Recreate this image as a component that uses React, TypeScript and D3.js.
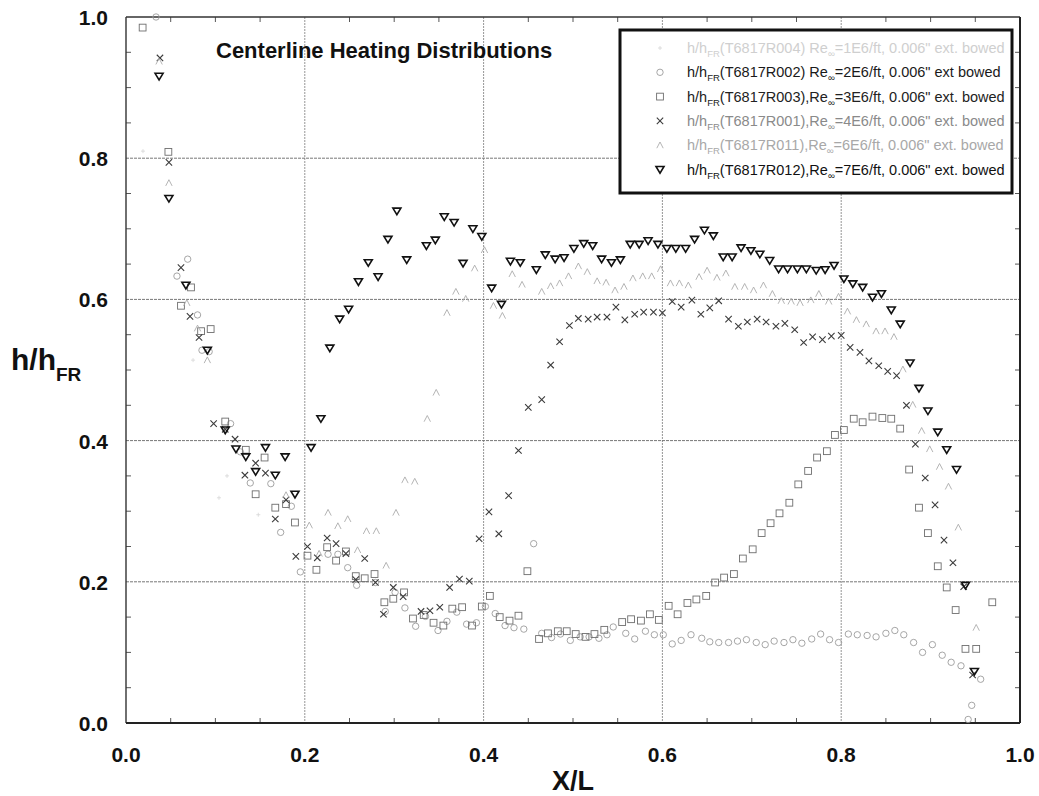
import React from "react";
import * as d3 from "d3";

type Pt = [number, number];

// X/L, h/hFR pairs
const r004: Pt[] = [[0.019,0.81],[0.075,0.514],[0.104,0.319],[0.113,0.35],[0.148,0.295]];
const r002: Pt[] = [[0.0336,1.0],[0.057,0.633],[0.069,0.657],[0.080,0.578],[0.085,0.528],[0.093,0.526],[0.117,0.424],[0.128,0.384],[0.139,0.340],[0.162,0.339],[0.173,0.270],[0.185,0.307],[0.195,0.214],[0.226,0.239],[0.237,0.239],[0.248,0.220],[0.258,0.195],[0.279,0.199],[0.290,0.158],[0.301,0.185],[0.312,0.163],[0.324,0.137],[0.335,0.151],[0.349,0.131],[0.359,0.144],[0.370,0.157],[0.381,0.140],[0.392,0.142],[0.402,0.165],[0.413,0.155],[0.424,0.138],[0.434,0.135],[0.445,0.133],[0.456,0.254],[0.465,0.127],[0.476,0.121],[0.486,0.126],[0.497,0.117],[0.508,0.122],[0.518,0.122],[0.529,0.120],[0.538,0.125],[0.545,0.136],[0.559,0.127],[0.569,0.119],[0.581,0.130],[0.591,0.125],[0.601,0.125],[0.611,0.112],[0.621,0.117],[0.632,0.125],[0.644,0.120],[0.653,0.115],[0.663,0.114],[0.674,0.114],[0.684,0.116],[0.694,0.118],[0.705,0.114],[0.715,0.111],[0.725,0.116],[0.736,0.114],[0.746,0.118],[0.756,0.113],[0.767,0.119],[0.777,0.126],[0.787,0.118],[0.797,0.114],[0.808,0.126],[0.818,0.125],[0.829,0.124],[0.839,0.122],[0.850,0.127],[0.860,0.131],[0.870,0.125],[0.881,0.114],[0.891,0.100],[0.902,0.111],[0.913,0.096],[0.923,0.086],[0.934,0.081],[0.946,0.025],[0.942,0.005],[0.956,0.062]];
const r003: Pt[] = [[0.0186,0.985],[0.0474,0.809],[0.0615,0.591],[0.0727,0.617],[0.084,0.555],[0.0947,0.558],[0.111,0.427],[0.134,0.387],[0.145,0.324],[0.155,0.376],[0.167,0.305],[0.179,0.310],[0.189,0.284],[0.203,0.237],[0.213,0.217],[0.225,0.249],[0.235,0.230],[0.246,0.243],[0.257,0.208],[0.267,0.205],[0.278,0.211],[0.289,0.171],[0.299,0.176],[0.311,0.185],[0.321,0.148],[0.333,0.153],[0.344,0.142],[0.355,0.138],[0.365,0.162],[0.376,0.164],[0.387,0.138],[0.398,0.165],[0.407,0.180],[0.418,0.150],[0.429,0.145],[0.439,0.152],[0.449,0.215],[0.462,0.119],[0.472,0.127],[0.483,0.130],[0.493,0.130],[0.503,0.126],[0.514,0.122],[0.524,0.126],[0.535,0.132],[0.555,0.143],[0.565,0.147],[0.576,0.145],[0.586,0.154],[0.596,0.146],[0.607,0.166],[0.617,0.154],[0.628,0.170],[0.638,0.175],[0.649,0.180],[0.659,0.199],[0.669,0.206],[0.680,0.211],[0.690,0.233],[0.701,0.246],[0.711,0.269],[0.721,0.283],[0.731,0.297],[0.742,0.312],[0.752,0.338],[0.763,0.357],[0.773,0.376],[0.784,0.385],[0.793,0.408],[0.803,0.415],[0.814,0.431],[0.824,0.426],[0.835,0.434],[0.846,0.432],[0.856,0.431],[0.866,0.417],[0.876,0.359],[0.887,0.305],[0.897,0.269],[0.908,0.222],[0.918,0.192],[0.928,0.160],[0.939,0.105],[0.951,0.105],[0.969,0.171]];
const r001: Pt[] = [[0.038,0.942],[0.048,0.794],[0.0615,0.645],[0.0716,0.576],[0.0817,0.546],[0.098,0.424],[0.111,0.416],[0.122,0.402],[0.133,0.351],[0.145,0.368],[0.156,0.354],[0.167,0.289],[0.179,0.316],[0.190,0.236],[0.203,0.250],[0.214,0.234],[0.225,0.262],[0.235,0.254],[0.246,0.240],[0.257,0.203],[0.267,0.233],[0.279,0.199],[0.288,0.154],[0.299,0.192],[0.310,0.179],[0.330,0.158],[0.340,0.159],[0.351,0.164],[0.362,0.192],[0.373,0.204],[0.384,0.201],[0.395,0.261],[0.406,0.299],[0.417,0.268],[0.428,0.322],[0.439,0.386],[0.450,0.447],[0.465,0.458],[0.475,0.507],[0.485,0.540],[0.496,0.563],[0.506,0.573],[0.517,0.572],[0.527,0.575],[0.538,0.575],[0.548,0.589],[0.558,0.571],[0.569,0.579],[0.579,0.582],[0.590,0.582],[0.600,0.581],[0.611,0.597],[0.621,0.589],[0.633,0.599],[0.643,0.579],[0.653,0.588],[0.663,0.598],[0.674,0.572],[0.685,0.562],[0.695,0.568],[0.706,0.572],[0.716,0.568],[0.727,0.562],[0.737,0.566],[0.748,0.557],[0.758,0.539],[0.768,0.547],[0.779,0.543],[0.789,0.548],[0.800,0.549],[0.810,0.532],[0.821,0.525],[0.831,0.513],[0.842,0.506],[0.852,0.498],[0.862,0.492],[0.873,0.450],[0.883,0.395],[0.894,0.347],[0.905,0.309],[0.915,0.259],[0.925,0.227],[0.937,0.193],[0.947,0.068]];
const r011: Pt[] = [[0.037,0.937],[0.048,0.765],[0.068,0.595],[0.080,0.559],[0.091,0.514],[0.179,0.323],[0.205,0.280],[0.216,0.240],[0.226,0.298],[0.237,0.279],[0.248,0.289],[0.259,0.245],[0.269,0.272],[0.280,0.272],[0.291,0.223],[0.302,0.298],[0.312,0.344],[0.323,0.342],[0.337,0.431],[0.347,0.468],[0.359,0.581],[0.369,0.611],[0.380,0.601],[0.390,0.644],[0.401,0.670],[0.411,0.591],[0.421,0.577],[0.432,0.636],[0.443,0.621],[0.465,0.611],[0.475,0.619],[0.485,0.623],[0.495,0.633],[0.506,0.647],[0.516,0.639],[0.527,0.626],[0.537,0.624],[0.547,0.613],[0.557,0.618],[0.567,0.630],[0.578,0.633],[0.588,0.633],[0.598,0.643],[0.609,0.623],[0.619,0.623],[0.629,0.620],[0.641,0.632],[0.650,0.641],[0.661,0.631],[0.671,0.637],[0.681,0.618],[0.692,0.618],[0.702,0.613],[0.713,0.620],[0.723,0.608],[0.733,0.598],[0.744,0.597],[0.754,0.595],[0.766,0.599],[0.775,0.608],[0.786,0.597],[0.797,0.604],[0.807,0.583],[0.817,0.571],[0.828,0.565],[0.839,0.555],[0.849,0.555],[0.859,0.547],[0.869,0.501],[0.880,0.451],[0.890,0.414],[0.899,0.388],[0.910,0.363],[0.920,0.335],[0.931,0.277],[0.951,0.135]];
const r012: Pt[] = [[0.037,0.916],[0.048,0.743],[0.067,0.620],[0.091,0.528],[0.111,0.415],[0.123,0.388],[0.134,0.377],[0.145,0.356],[0.156,0.390],[0.167,0.351],[0.178,0.377],[0.189,0.324],[0.207,0.390],[0.218,0.431],[0.228,0.531],[0.239,0.572],[0.249,0.586],[0.260,0.625],[0.271,0.652],[0.282,0.632],[0.293,0.685],[0.303,0.725],[0.314,0.656],[0.336,0.676],[0.346,0.684],[0.356,0.717],[0.367,0.709],[0.377,0.651],[0.388,0.700],[0.398,0.689],[0.409,0.616],[0.420,0.593],[0.430,0.654],[0.441,0.652],[0.459,0.642],[0.469,0.663],[0.480,0.657],[0.490,0.659],[0.501,0.672],[0.512,0.679],[0.522,0.676],[0.532,0.657],[0.543,0.652],[0.553,0.656],[0.564,0.678],[0.574,0.678],[0.584,0.683],[0.595,0.678],[0.605,0.672],[0.615,0.672],[0.626,0.672],[0.636,0.685],[0.647,0.698],[0.657,0.690],[0.668,0.660],[0.678,0.660],[0.688,0.673],[0.699,0.669],[0.709,0.664],[0.720,0.655],[0.730,0.643],[0.740,0.643],[0.751,0.643],[0.761,0.643],[0.772,0.641],[0.782,0.642],[0.792,0.648],[0.803,0.629],[0.813,0.622],[0.824,0.617],[0.835,0.603],[0.845,0.608],[0.856,0.585],[0.866,0.565],[0.877,0.510],[0.887,0.474],[0.897,0.442],[0.908,0.412],[0.918,0.387],[0.929,0.359],[0.939,0.195],[0.949,0.073]];

const runIds = ["T6817R004", "T6817R002", "T6817R003", "T6817R001", "T6817R011", "T6817R012"];
const reynolds = ["1E6", "2E6", "3E6", "4E6", "6E6", "7E6"];
const legendSep = [") Re", ") Re", "),Re", "),Re", "),Re", "),Re"];
const legendTail = ["/ft, 0.006\" ext. bowed", "/ft, 0.006\" ext bowed", "/ft, 0.006\" ext. bowed", "/ft, 0.006\" ext. bowed", "/ft, 0.006\" ext. bowed", "/ft, 0.006\" ext. bowed"];
const majorTicks = [0, 0.2, 0.4, 0.6, 0.8, 1.0];
const title = "Centerline Heating Distributions";

type Kind = "dot" | "circle" | "square" | "cross" | "caret" | "tri";
const seriesData: Pt[][] = [r004, r002, r003, r001, r011, r012];
const kinds: Kind[] = ["dot", "circle", "square", "cross", "caret", "tri"];
const colors = ["#d6d6d6", "#9c9c9c", "#6e6e6e", "#3c3c3c", "#ababab", "#111111"];
const textColors = ["#cfcfcf", "#1a1a1a", "#222222", "#8a8a8a", "#a8a8a8", "#111111"];

function Marker({ kind, x, y, color }: { kind: Kind; x: number; y: number; color: string }) {
  const t = `translate(${x},${y})`;
  switch (kind) {
    case "dot":
      return <path transform={t} d="M-2,0L2,0M0,-2L0,2" stroke={color} strokeWidth={0.8} fill="none" />;
    case "circle":
      return <circle cx={x} cy={y} r={3.2} stroke={color} strokeWidth={0.9} fill="none" />;
    case "square":
      return <rect x={x - 3.4} y={y - 3.4} width={6.8} height={6.8} stroke={color} strokeWidth={0.9} fill="none" />;
    case "cross":
      return <path transform={t} d="M-3.2,-3.2L3.2,3.2M-3.2,3.2L3.2,-3.2" stroke={color} strokeWidth={1.1} fill="none" />;
    case "caret":
      return <path transform={t} d="M-3.2,3L0,-3.2L3.2,3" stroke={color} strokeWidth={0.9} fill="none" />;
    case "tri":
      return <path transform={t} d="M-4,-3L4,-3L0,3.6Z" stroke={color} strokeWidth={1.6} fill="none" strokeLinejoin="miter" />;
  }
}

export default function App() {
  const W = 1039, H = 796;
  const left = 126, right = 1020, top = 17, bottom = 723;
  const x = d3.scaleLinear().domain([0, 1]).range([left, right]);
  const y = d3.scaleLinear().domain([0, 1]).range([bottom, top]);
  const minor = d3.range(0, 1.0001, 0.05).filter((v) => Math.abs(v * 5 - Math.round(v * 5)) > 1e-6);
  const font = "'Liberation Sans', Arial, Helvetica, sans-serif";
  const gridMid = majorTicks.filter((v) => v > 0 && v < 1);

  const lgX = 620, lgY = 30, lgW = 392, lgH = 163;
  const rowY = (i: number) => 48 + i * 24.3;

  return (
    <svg width={W} height={H} style={{ position: "absolute", left: 0, top: 0, background: "#fff" }} fontFamily={font}>
      <rect x={0} y={0} width={W} height={H} fill="#fff" />
      {/* grid */}
      {gridMid.map((v) => (
        <line key={"gx" + v} x1={x(v)} x2={x(v)} y1={top} y2={bottom} stroke="#8a8a8a" strokeWidth={0.9} strokeDasharray="2,1" />
      ))}
      {gridMid.map((v) => (
        <line key={"gy" + v} x1={left} x2={right} y1={y(v)} y2={y(v)} stroke="#777" strokeWidth={1} strokeDasharray="3,1" />
      ))}
      {/* minor ticks */}
      {minor.map((v) => (
        <g key={"m" + v} stroke="#444" strokeWidth={0.9}>
          <line x1={x(v)} x2={x(v)} y1={bottom} y2={bottom - 5} />
          <line x1={x(v)} x2={x(v)} y1={top} y2={top + 5} />
          <line x1={left} x2={left + 5} y1={y(v)} y2={y(v)} />
          <line x1={right} x2={right - 5} y1={y(v)} y2={y(v)} />
        </g>
      ))}
      {/* frame */}
      <line x1={left} x2={right} y1={top} y2={top} stroke="#333" strokeWidth={1.4} />
      <line x1={left} x2={left} y1={top} y2={bottom} stroke="#333" strokeWidth={1.4} />
      <line x1={left} x2={right} y1={bottom} y2={bottom} stroke="#222" strokeWidth={2} />
      <line x1={right} x2={right} y1={top} y2={bottom} stroke="#222" strokeWidth={2} />

      {/* data */}
      {seriesData.map((pts, si) => (
        <g key={"s" + si}>
          {pts.map((p, i) => (
            <Marker key={i} kind={kinds[si]} x={x(p[0])} y={y(p[1])} color={colors[si]} />
          ))}
        </g>
      ))}

      {/* tick labels */}
      {majorTicks.map((v) => (
        <text key={"ty" + v} x={108} y={y(v) + 8} textAnchor="end" fontSize={21} fontWeight="bold" fill="#111">
          {d3.format(".1f")(v)}
        </text>
      ))}
      {majorTicks.map((v) => (
        <text key={"tx" + v} x={x(v)} y={762} textAnchor="middle" fontSize={21} fontWeight="bold" fill="#111">
          {d3.format(".1f")(v)}
        </text>
      ))}

      {/* axis titles */}
      <text x={573} y={790} textAnchor="middle" fontSize={27} fontWeight="bold" fill="#111">X/L</text>
      <text x={11} y={370} fontSize={30} fontWeight="bold" fill="#111">
        h/h<tspan fontSize={19} dy={11}>FR</tspan>
      </text>

      {/* title */}
      <text x={216} y={58} fontSize={22} fontWeight="bold" fill="#111">{title}</text>

      {/* legend */}
      <rect x={lgX} y={lgY} width={lgW} height={lgH} fill="#fff" stroke="#111" strokeWidth={3} />
      {runIds.map((id, i) => (
        <g key={"lg" + i}>
          <Marker kind={kinds[i]} x={660} y={rowY(i)} color={colors[i]} />
          <text x={687} y={rowY(i) + 5} fontSize={14.5} fill={textColors[i]}>
            h/h<tspan fontSize={9.5} dy={4}>FR</tspan>
            <tspan dy={-4}>({id}{legendSep[i]}</tspan>
            <tspan fontSize={9.5} dy={4}>∞</tspan>
            <tspan dy={-4}>={reynolds[i]}{legendTail[i]}</tspan>
          </text>
        </g>
      ))}
    </svg>
  );
}
